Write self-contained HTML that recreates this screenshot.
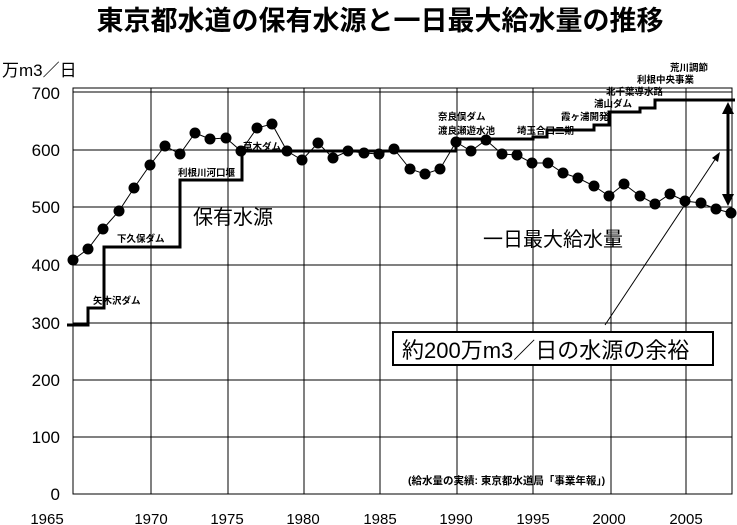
<!DOCTYPE html><html><head><meta charset="utf-8"><style>body{margin:0;background:#fff}svg{display:block}text{font-family:"Liberation Sans","Noto Sans CJK JP",sans-serif}</style></head><body>
<svg width="737" height="525" viewBox="0 0 737 525" xmlns="http://www.w3.org/2000/svg">
<text x="380" y="30" font-size="27" font-weight="bold" text-anchor="middle">東京都水道の保有水源と一日最大給水量の推移</text>
<text x="2" y="76" font-size="17">万m3／日</text>
<g stroke="#000" stroke-width="1" fill="none">
<rect x="73" y="88" width="659" height="406"/>
<line x1="73" y1="92" x2="732" y2="92"/><line x1="73" y1="150" x2="732" y2="150"/><line x1="73" y1="207" x2="732" y2="207"/><line x1="73" y1="265" x2="732" y2="265"/><line x1="73" y1="323" x2="732" y2="323"/><line x1="73" y1="380" x2="732" y2="380"/><line x1="73" y1="437" x2="732" y2="437"/>
<line x1="151" y1="88" x2="151" y2="494"/><line x1="228" y1="88" x2="228" y2="494"/><line x1="304" y1="88" x2="304" y2="494"/><line x1="380" y1="88" x2="380" y2="494"/><line x1="457" y1="88" x2="457" y2="494"/><line x1="533" y1="88" x2="533" y2="494"/><line x1="611" y1="88" x2="611" y2="494"/><line x1="686" y1="88" x2="686" y2="494"/>
</g>
<g font-size="17" text-anchor="end"><text x="60" y="99">700</text><text x="60" y="156">600</text><text x="60" y="213">500</text><text x="60" y="271">400</text><text x="60" y="329">300</text><text x="60" y="386">200</text><text x="60" y="443">100</text><text x="60" y="500">0</text></g>
<g font-size="15" text-anchor="middle"><text x="47" y="524">1965</text><text x="151" y="524">1970</text><text x="227" y="524">1975</text><text x="303" y="524">1980</text><text x="380" y="524">1985</text><text x="456" y="524">1990</text><text x="533" y="524">1995</text><text x="609" y="524">2000</text><text x="686" y="524">2005</text></g>
<polyline fill="none" stroke="#000" stroke-width="3" points="67,325 88,325 88,308 104,308 104,247 180,247 180,180 242,180 242,151 456,151 456,139 533,139 533,137 547,137 547,130 594,130 594,125 609,125 609,112 640,112 640,108 655,108 655,100 735,100"/>
<polyline fill="none" stroke="#000" stroke-width="1" points="73,260 88,249 103,229 119,211 134,188 150,165 165,146 180,154 195,133 210,139 226,138 241,151 257,128 272,124 287,151 302,160 318,143 333,158 348,151 364,153 379,154 394,149 410,169 425,174 440,169 456,142 471,151 486,140 502,154 517,155 532,163 548,163 563,173 578,178 594,186 609,196 624,184 640,196 655,204 670,194 685,201 701,203 716,209 731,213"/>
<g fill="#000"><circle cx="73" cy="260" r="5.5"/><circle cx="88" cy="249" r="5.5"/><circle cx="103" cy="229" r="5.5"/><circle cx="119" cy="211" r="5.5"/><circle cx="134" cy="188" r="5.5"/><circle cx="150" cy="165" r="5.5"/><circle cx="165" cy="146" r="5.5"/><circle cx="180" cy="154" r="5.5"/><circle cx="195" cy="133" r="5.5"/><circle cx="210" cy="139" r="5.5"/><circle cx="226" cy="138" r="5.5"/><circle cx="241" cy="151" r="5.5"/><circle cx="257" cy="128" r="5.5"/><circle cx="272" cy="124" r="5.5"/><circle cx="287" cy="151" r="5.5"/><circle cx="302" cy="160" r="5.5"/><circle cx="318" cy="143" r="5.5"/><circle cx="333" cy="158" r="5.5"/><circle cx="348" cy="151" r="5.5"/><circle cx="364" cy="153" r="5.5"/><circle cx="379" cy="154" r="5.5"/><circle cx="394" cy="149" r="5.5"/><circle cx="410" cy="169" r="5.5"/><circle cx="425" cy="174" r="5.5"/><circle cx="440" cy="169" r="5.5"/><circle cx="456" cy="142" r="5.5"/><circle cx="471" cy="151" r="5.5"/><circle cx="486" cy="140" r="5.5"/><circle cx="502" cy="154" r="5.5"/><circle cx="517" cy="155" r="5.5"/><circle cx="532" cy="163" r="5.5"/><circle cx="548" cy="163" r="5.5"/><circle cx="563" cy="173" r="5.5"/><circle cx="578" cy="178" r="5.5"/><circle cx="594" cy="186" r="5.5"/><circle cx="609" cy="196" r="5.5"/><circle cx="624" cy="184" r="5.5"/><circle cx="640" cy="196" r="5.5"/><circle cx="655" cy="204" r="5.5"/><circle cx="670" cy="194" r="5.5"/><circle cx="685" cy="201" r="5.5"/><circle cx="701" cy="203" r="5.5"/><circle cx="716" cy="209" r="5.5"/><circle cx="731" cy="213" r="5.5"/></g>
<g font-size="9.5" font-weight="bold"><text x="93" y="304">矢木沢ダム</text><text x="117" y="242">下久保ダム</text><text x="178" y="176">利根川河口堰</text><text x="243" y="150">草木ダム</text><text x="438" y="120">奈良俣ダム</text><text x="438" y="134">渡良瀬遊水池</text><text x="517" y="134">埼玉合口二期</text><text x="561" y="120">霞ヶ浦開発</text><text x="594" y="107">浦山ダム</text><text x="606" y="95">北千葉導水路</text><text x="637" y="83">利根中央事業</text><text x="670" y="71">荒川調節</text></g>
<text x="193" y="224" font-size="20">保有水源</text>
<text x="483" y="246" font-size="20">一日最大給水量</text>
<text x="408" y="484" font-size="10.5" font-weight="bold">(給水量の実績: 東京都水道局「事業年報」)</text>
<rect x="393" y="332" width="320" height="33" fill="#fff" stroke="#000" stroke-width="2"/>
<text x="402" y="358" font-size="22">約200万m3／日の水源の余裕</text>
<line x1="605" y1="325" x2="716" y2="158" stroke="#000" stroke-width="1"/>
<polygon points="720,152 712,158 718,162" fill="#000"/>
<line x1="728" y1="112" x2="728" y2="196" stroke="#000" stroke-width="3"/>
<polygon points="728,102 722,114 734,114" fill="#000"/><polygon points="728,206 722,194 734,194" fill="#000"/>
</svg></body></html>
